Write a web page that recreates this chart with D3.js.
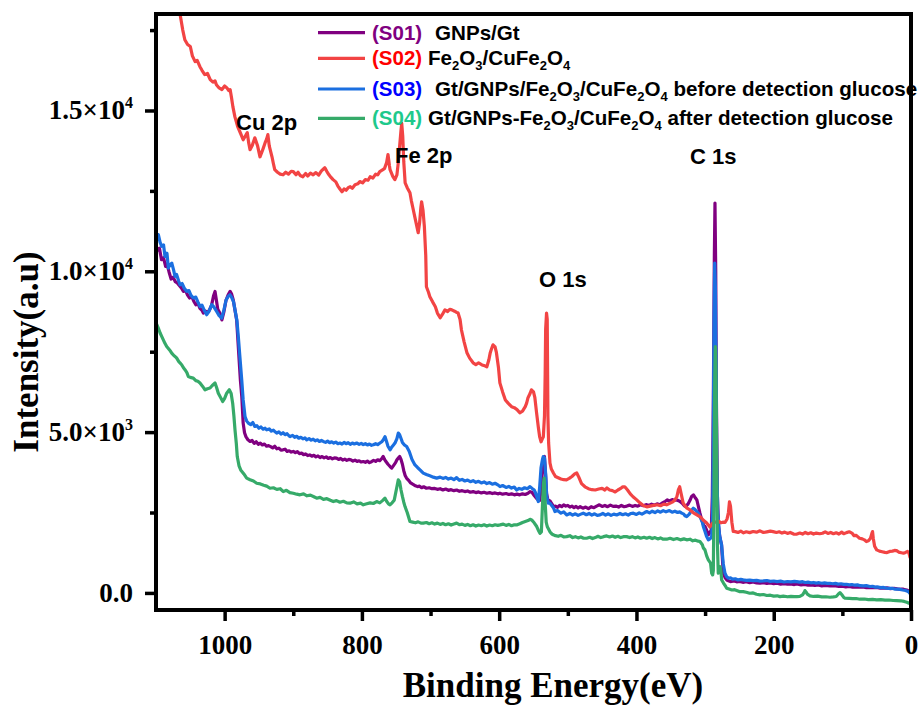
<!DOCTYPE html>
<html>
<head>
<meta charset="utf-8">
<script src="https://cdn.jsdelivr.net/npm/d3@7"></script>
<style>
  body { margin: 0; background: #fff; }
  svg { display: block; }
</style>
</head>
<body>
<svg id="chart" width="919" height="705"></svg>
<script>
/* ===============================
   Data
================================ */

const xMajorTicks = [1000, 800, 600, 400, 200, 0];
const xMinorTicks = [900, 700, 500, 300, 100];
const yMajorTicks = [0, 5000, 10000, 15000];
const yMinorTicks = [2500, 7500, 12500, 17500];
const yTickMantissa = ["0.0", "5.0", "1.0", "1.5"];
const yTickExponent = ["", "3", "4", "4"];

const seriesCodes = ["(S01)", "(S02)", "(S03)", "(S04)"];
const seriesNames = [
  "GNPs/Gt",
  "Fe_2O_3/CuFe_2O_4",
  "Gt/GNPs/Fe_2O_3/CuFe_2O_4 before detection glucose",
  "Gt/GNPs-Fe_2O_3/CuFe_2O_4 after detection glucose"
];
const peakLabels = ["Cu 2p", "Fe 2p", "O 1s", "C 1s"];

// [binding energy (eV), intensity (a.u)]
const s01 = [
  [1100,10800],[1098,10650],[1095,10720],[1092,10360],[1089,10420],[1086,10150],[1084,10230],[1081,9980],
  [1078,9760],[1075,9820],[1072,9680],[1069,9640],[1066,9560],[1063,9480],[1060,9375],[1057,9410],
  [1054,9260],[1051,9170],[1048,9220],[1045,9070],[1042,8960],[1039,9010],[1036,8850],[1033,8790],
  [1031,8700],[1028,8760],[1025,8720],[1022,8800],[1019,8950],[1016,9250],[1014,9375],[1012,9100],
  [1010,8820],[1007,8700],[1004,8490],[1001,8750],[998,9100],[995,9260],[992,9375],[990,9300],
  [987.5,9115],[985,8800],[982.5,8490],[980.5,7800],[978.6,7145],[977,6600],[975,6105],[973,5280],
  [971,4980],[969,4860],[966,4760],[963,4710],[960,4740],[957,4650],[954,4700],[951,4620],
  [948,4660],[945,4600],[942,4630],[939,4560],[936,4580],[933,4550],[930,4510],[927,4560],
  [924,4480],[921,4500],[918,4440],[915,4450],[912,4470],[909,4400],[906,4420],[903,4380],
  [900,4400],[897,4360],[894,4395],[891,4330],[888,4350],[885,4300],[882,4320],[879,4270],
  [876,4290],[873,4250],[870,4280],[867,4230],[864,4260],[861,4210],[858,4240],[855,4200],
  [852,4230],[849,4180],[846,4210],[843,4170],[840,4200],[837,4190],[834,4150],[831,4180],
  [828,4130],[825,4160],[822,4120],[819,4150],[816,4140],[813,4100],[810,4130],[807,4090],
  [804,4110],[801,4070],[798,4085],[795,4060],[792,4100],[789,4050],[786,4080],[783,4120],
  [780,4090],[777,4140],[774,4110],[771,4180],[769,4240],[767,4150],[765,4085],[762,4000],
  [759,3930],[756.6,3880],[754,3960],[751,4050],[749,4140],[747,4190],[745,4240],[743,4150],
  [741,4000],[739,3800],[737,3650],[735,3570],[732,3500],[729,3420],[726,3380],[722,3330],
  [719,3305],[716,3320],[713,3270],[710,3300],[706,3255],[702,3270],[698,3240],[694,3250],
  [690,3220],[686,3240],[682,3200],[678,3230],[674,3190],[670,3210],[666,3180],[662,3200],
  [658,3160],[654,3180],[650,3150],[646,3170],[642,3130],[638,3150],[634,3120],[630,3140],
  [626,3110],[622,3130],[618,3100],[614,3120],[610,3090],[606,3110],[602,3080],[599,3100],
  [595,3070],[590,3090],[586,3060],[582,3080],[578,3050],[574,3070],[570,3050],[566,3080],
  [562,3060],[558,3100],[555,3150],[552,3120],[549,3030],[546,2950],[543,2890],[541,2880],
  [539,3200],[537,3800],[535.5,4200],[534,4240],[532.5,3700],[531,3100],[529,2890],[526,2860],
  [523,2760],[521,2685],[518,2700],[515,2660],[512,2720],[509,2680],[506,2740],[503,2700],
  [500,2720],[497,2670],[494,2700],[491,2650],[488,2690],[485,2640],[482,2680],[478,2635],
  [474,2670],[470,2620],[466,2680],[462,2650],[458,2700],[454,2740],[450,2690],[446,2720],
  [442,2680],[438,2730],[434,2690],[430,2700],[426,2670],[422,2720],[418,2680],[414,2700],
  [410,2730],[406,2690],[402,2720],[398,2700],[394,2740],[390,2710],[386,2745],[382,2720],
  [378,2760],[374,2730],[370,2770],[366,2740],[362,2800],[358,2850],[355,2890],[352,2860],
  [348,2900],[345,2880],[341,2890],[337,2850],[333,2780],[330,2700],[328,2690],[325,2760],
  [322,2880],[319.6,3000],[317,3050],[314,2950],[312,2890],[309.9,2700],[307.5,2480],[305,2280],
  [302,2100],[300,2065],[297.7,1950],[295.3,1805],[293,1880],[291,1960],[289.5,3000],[288,6000],
  [286.5,10500],[285.6,12120],[284.5,10000],[283.5,6000],[282,3000],[280.5,2100],[278.3,1700],[276,1493],
  [273.5,613],[271,480],[268.5,404],[266,380],[263,352],[258,370],[254,345],[250,360],
  [245,330],[240,350],[235,320],[230,340],[225,310],[220,300],[215,320],[210,295],
  [205,310],[200,290],[195,300],[190,275],[185,285],[180,270],[175,280],[170,260],
  [166,280],[160,250],[155,265],[150,240],[145,250],[140,230],[135,245],[130,220],
  [125,235],[118,218],[112,225],[105,200],[100,210],[95,190],[90,200],[85,180],
  [80,190],[74,177],[70,185],[65,165],[60,175],[55,160],[50,170],[45,150],
  [40,146],[35,155],[30,135],[25,145],[20,125],[15,115],[11,115],[8,100],
  [5,80],[3,60],[1.5,40],[0,20]
];

const s02 = [
  [1100,20200],[1090,19500],[1080,18900],[1072,18500],[1065,18000],[1061,17500],[1058,17200],[1054,17050],
  [1050,16990],[1047,16700],[1043,16520],[1040,16560],[1036,16360],[1033,16250],[1029,16115],[1025,16150],
  [1021,15960],[1017,15880],[1014,15920],[1012,15800],[1008,15700],[1004,15650],[1000,15760],[997,15710],
  [994,15620],[992,15650],[990,15400],[988,15120],[985,14800],[981,14500],[977,14300],[973,14090],
  [970,14200],[967,14310],[965,14000],[963,13780],[960,13900],[956,14150],[952,13900],[948.5,13560],
  [945,13750],[941,14000],[939,14100],[937,14250],[935,13900],[931,13560],[929,13350],[927,13160],
  [923,13080],[919,13020],[915,13000],[911,13080],[907,13020],[903,13110],[900,13100],[896,13000],
  [893,13080],[890,12980],[886,12940],[882,13040],[879,12960],[875,13050],[871,13000],[867,13070],
  [863,12990],[859,13120],[856,13180],[854,13220],[851,13100],[848,13000],[845,12920],[842,12850],
  [838,12780],[835,12650],[832,12560],[829,12475],[826,12560],[823,12520],[820,12600],[817,12630],
  [814,12580],[810,12690],[806,12720],[803,12790],[799,12750],[795,12850],[791,12830],[788,12940],
  [784,12900],[780,13020],[777,13000],[774,13100],[770,13150],[767,13200],[764,13380],[762,13630],
  [760,13300],[759,13160],[755,12950],[752,12850],[749,13000],[747,13380],[745,13900],[743,14400],
  [742,14600],[740.5,14200],[739,13400],[737,12750],[734,12600],[730,12440],[728,12200],[726,12000],
  [722,11600],[718,11200],[716,11500],[714,12000],[713,12160],[711,11900],[709,11390],[707,10500],
  [706,9520],[703,9350],[701,9210],[697,9050],[693,8900],[690,8700],[686,8555],[683,8650],
  [679,8800],[675,8750],[672,8820],[669,8800],[665,8760],[662,8720],[660,8710],[657,8500],
  [655,8180],[651,7800],[647,7470],[643,7300],[638,7155],[634,7100],[630,7150],[625,7090],
  [621,7060],[618,7030],[615,7250],[613,7470],[611,7600],[609,7715],[606,7650],[604,7470],
  [601,7000],[599,6530],[595,6250],[591,6000],[587,5900],[582,5790],[578,5760],[574,5700],
  [570,5600],[566,5650],[562,5790],[560,5900],[558,6070],[555,6200],[553,6315],[550,6250],
  [548,6070],[545.5,5600],[543,5160],[541,4850],[539,4700],[537,4800],[535.7,4850],[534,5500],
  [533,6800],[532.3,8200],[531,8700],[530,8500],[529.5,7000],[529,5500],[528,4670],[526,4040],
  [524,3850],[521,3730],[518,3620],[514,3580],[510,3540],[506,3520],[502,3515],[498,3560],
  [494,3620],[490,3700],[487,3730],[484,3600],[480,3400],[475,3300],[470,3240],[465,3210],
  [460,3200],[455,3230],[450,3250],[446,3200],[443,3265],[439,3200],[435,3180],[431,3140],
  [427,3200],[423,3250],[420,3300],[417,3300],[413,3200],[409,3080],[405,2990],[400,2900],
  [395,2800],[390,2720],[385,2675],[380,2700],[375,2720],[370,2740],[365,2710],[360,2760],
  [356,2740],[350,2800],[347,2830],[344,2890],[341,3000],[339,3200],[337,3300],[335,3100],
  [332,2800],[329,2700],[327,2645],[322,2580],[317,2490],[312,2430],[307,2365],[302,2250],
  [298,2180],[293,2050],[290,2150],[287,2200],[284,2200],[280,2230],[277,2180],[274,2200],
  [271,2190],[268,2300],[266,2500],[264.5,2830],[263,2700],[261,2200],[259,1910],[256,1905],
  [252,1880],[248,1920],[244,1870],[240,1900],[235,1875],[230,1910],[225,1890],[220,1930],
  [215,1880],[210,1900],[205,1920],[201,1907],[196,1880],[192,1900],[188,1860],[184,1890],
  [180,1850],[176,1880],[171,1830],[167,1825],[162,1860],[158,1830],[154,1880],[150,1840],
  [146,1870],[142,1830],[138,1860],[133,1840],[129,1855],[125,1900],[121,1850],[117,1880],
  [113,1840],[109,1870],[105,1830],[101,1890],[98,1840],[94,1875],[90,1900],[86,1860],
  [83,1780],[80,1790],[79,1773],[75,1700],[71,1680],[68,1650],[65,1597],[62,1620],
  [59,1700],[57,1850],[56,1907],[55,1700],[53,1450],[50,1338],[46,1300],[42,1280],
  [38,1260],[35,1254],[31,1290],[27,1300],[24,1320],[21,1316],[18,1270],[14,1250],
  [11,1235],[8,1260],[5,1290],[3,1240],[1.5,1110],[0,1080]
];

const s03 = [
  [1100,11150],[1098,11000],[1096.6,11140],[1094,10900],[1091.7,10775],[1089,10820],[1086.9,10460],[1084,10560],
  [1082,10100],[1080,10200],[1077,10255],[1074.5,10050],[1072.3,9840],[1070,9900],[1067,9700],[1065,9580],
  [1062,9620],[1059,9480],[1055.3,9375],[1052,9400],[1049,9250],[1045.7,9170],[1042,9200],[1039,9050],
  [1035.9,8905],[1033,8950],[1030,8800],[1026.1,8650],[1023,8750],[1021,8850],[1018.8,8960],[1016,8900],
  [1013,8800],[1011.6,8750],[1008,8620],[1004.3,8545],[1001,8800],[998,9100],[995,9220],[992.2,9270],
  [990,9200],[987,9050],[984.9,8800],[982,8450],[980.1,7975],[978,7400],[975.1,6625],[973,6000],
  [970.3,5485],[968,5350],[965.5,5280],[962,5230],[959,5300],[956,5175],[953,5200],[950,5120],
  [947,5160],[944,5090],[941,5120],[938.7,5070],[935,5100],[932,5030],[929,5060],[926,5000],
  [924.2,4970],[921,5010],[918,4940],[915,4980],[912,4920],[909,4950],[906,4880],[904.8,4860],
  [901,4900],[898,4840],[895,4870],[892,4810],[889,4840],[886,4790],[883,4820],[880.4,4760],
  [877,4800],[874,4750],[871,4780],[868,4730],[865,4760],[862,4710],[859,4740],[856.3,4710],
  [853,4680],[850,4720],[847,4670],[844,4700],[841,4660],[838,4690],[835,4640],[832,4660],
  [829,4630],[826,4680],[823,4640],[820,4670],[817,4620],[814,4660],[811,4630],[807.6,4660],
  [804,4620],[801,4650],[798,4610],[795,4640],[792,4600],[789,4630],[786,4590],[783.4,4605],
  [780,4640],[777,4610],[773.7,4660],[771,4700],[768.8,4760],[766.4,4860],[764,4700],[762,4560],
  [759,4450],[757,4520],[754,4600],[751.8,4660],[749,4800],[747,4970],[745,4915],[743,4800],
  [741,4680],[738,4600],[734.8,4550],[731,4400],[727,4150],[722.7,3980],[719,3900],[715,3820],
  [710.6,3725],[706,3680],[701,3640],[696,3600],[691.1,3570],[686,3600],[682,3560],[678,3590],
  [674,3540],[670,3570],[666,3520],[662,3585],[658,3500],[654,3530],[650,3480],[646,3510],
  [642,3460],[638,3490],[634,3440],[630,3470],[626,3420],[622,3450],[618,3400],[614,3430],
  [610,3380],[606,3410],[602,3360],[598.8,3305],[595,3340],[590,3280],[586,3310],[582,3260],
  [578,3290],[574.5,3200],[571,3250],[567,3220],[563,3270],[559,3240],[555.1,3305],[552,3250],
  [549,3200],[547.8,3150],[545.3,3000],[543,2840],[541,3300],[539,3900],[537,4140],[535.7,4240],
  [534,4200],[532,3600],[530.8,3000],[528.5,2790],[526,2790],[521,2650],[518.7,2530],[515,2560],
  [510,2480],[506,2520],[501.7,2425],[497,2470],[493,2420],[489,2460],[485,2410],[481,2450],
  [477.5,2480],[473,2430],[469,2470],[465,2420],[461,2460],[457,2410],[453.1,2425],[449,2470],
  [445,2420],[441,2460],[437,2410],[433,2450],[428.8,2425],[424,2470],[420,2430],[416,2460],
  [412,2420],[408,2470],[404.6,2480],[400,2440],[396,2490],[392,2450],[388,2500],[385,2530],
  [381,2490],[377,2540],[373,2500],[369,2550],[365,2510],[361,2560],[357,2520],[355.9,2530],
  [352,2560],[348,2510],[344,2540],[340,2500],[337,2520],[334.1,2480],[331,2450],[329.3,2400],
  [326.8,2375],[323,2450],[320,2560],[317.2,2635],[315,2600],[312,2530],[309.9,2480],[307,2350],
  [304,2200],[302.6,2065],[300,1900],[297.7,1750],[295.3,1650],[293,1680],[290.4,1750],[289,2500],
  [288,5000],[287,8500],[286,10255],[285,9500],[284,7000],[283,4000],[281.5,2500],[279,1800],
  [276,1493],[273.5,900],[271,613],[268.5,500],[266,457],[263,470],[260,430],[256,440],
  [252,404],[248,420],[244.4,404],[240,390],[235,400],[230,380],[225,390],[220,365],
  [215.2,373],[210,385],[205,360],[200,370],[195,350],[190,365],[185,340],[180,355],
  [175,345],[170,360],[166.6,352],[162,335],[158,350],[154,325],[150,335],[146,315],
  [142,325],[138,305],[134,318],[130,300],[126,310],[122,295],[118.1,300],[114,285],
  [110,295],[106,275],[102,285],[98,265],[94,270],[90,250],[86,260],[82,240],
  [78,250],[74,225],[69.5,218],[65,225],[60,200],[56,205],[52,180],[48,185],
  [44,165],[40,170],[36,150],[32,140],[28,145],[24,120],[20,115],[16,110],
  [12,90],[8,75],[5,50],[3,20],[1.5,-20],[0,-30]
];

const s04 = [
  [1100,8400],[1098,8300],[1096,8200],[1094,8080],[1091.7,7975],[1089,7850],[1087,7760],[1084.4,7660],
  [1082,7600],[1079,7520],[1077.1,7455],[1074,7380],[1071,7330],[1069.8,7300],[1067,7200],[1065,7150],
  [1062.6,7095],[1060,7000],[1057.8,6940],[1055,6850],[1052.9,6730],[1050,6700],[1045.7,6680],[1042,6600],
  [1039,6580],[1035.9,6525],[1032,6420],[1028.6,6315],[1025,6350],[1021.3,6370],[1018,6450],[1014,6525],
  [1011.6,6380],[1009.2,6210],[1006,6080],[1002.8,5950],[1000,6050],[997,6210],[993.2,6315],[990.5,6200],
  [988.3,5900],[986.5,5500],[984.9,5070],[983,4650],[981.6,4240],[979,3950],[976.6,3825],[972,3700],
  [967.9,3570],[963,3520],[958,3480],[953.3,3410],[948,3390],[943,3350],[938.7,3320],[933.9,3255],
  [929,3270],[924,3220],[919,3240],[914.5,3150],[910,3190],[905,3120],[900,3100],[895,3070],
  [890.2,3050],[885,3080],[880,3020],[875,3040],[870,2990],[865.9,2945],[861,2970],[856,2910],
  [851,2930],[846,2880],[841.7,2840],[837,2870],[832,2820],[827,2850],[822,2800],[817.4,2790],
  [812,2830],[807,2770],[802,2790],[798,2740],[793,2770],[788,2800],[783.4,2780],[778.5,2840],
  [774,2800],[770,2870],[766.4,2945],[764,2850],[761,2760],[759.1,2740],[756,2800],[753,2880],
  [751.8,3000],[749,3300],[747,3515],[745,3450],[743,3200],[741,3000],[739,2820],[737.2,2685],
  [734,2500],[730,2220],[726,2200],[722,2180],[718,2210],[714,2170],[710.6,2170],[706,2190],
  [702,2150],[698,2180],[694,2140],[690,2170],[686,2130],[682,2160],[678,2120],[674,2150],
  [670,2110],[666,2140],[662,2170],[658,2120],[654,2140],[650,2100],[646,2130],[642,2090],
  [638,2120],[634,2080],[630,2110],[626,2090],[622,2120],[618,2080],[614,2110],[610,2090],
  [606,2120],[602,2100],[598.8,2115],[594,2140],[590,2100],[586,2130],[582,2090],[578,2120],
  [574.5,2115],[570,2150],[566,2190],[562,2220],[558,2250],[555,2290],[552.7,2270],[549,2180],
  [545.3,2065],[543,1950],[540.6,1855],[538.5,1900],[537,2700],[535.5,3400],[534.5,3570],[533,2800],
  [531.5,2200],[530,2065],[528.5,2000],[526,1900],[523,1830],[521.2,1805],[518,1780],[514,1760],
  [510,1790],[506,1740],[501.7,1750],[497,1780],[493,1720],[489,1750],[485,1710],[481,1740],
  [477,1700],[472.6,1700],[468,1730],[464,1690],[460,1720],[456,1760],[452,1720],[448,1750],
  [443.4,1773],[439,1740],[435,1770],[431,1730],[427,1760],[423,1720],[419,1750],[414.3,1750],
  [410,1720],[406,1750],[402,1710],[398,1740],[394,1700],[389,1730],[385.1,1700],[381,1730],
  [377,1690],[373,1720],[369,1680],[365,1710],[361,1670],[355.9,1670],[351,1700],[346,1660],
  [341,1690],[336,1650],[331,1680],[326.8,1650],[322,1670],[318,1620],[314,1640],[310,1610],
  [307.5,1597],[304,1500],[302.6,1400],[300.2,1338],[297.7,1150],[295.3,1027],[292,924],[290.4,613],
  [289,560],[288,700],[287,3000],[286,6500],[285,7660],[284.2,7000],[283,4000],[282,1500],
  [280.8,613],[279,700],[278.3,820],[277,700],[275.9,404],[273,300],[270,200],[268.5,146],
  [265,120],[261,90],[257,100],[253,70],[249.2,40],[244.4,40],[240,20],[235,-10],
  [230,0],[225,-40],[220,-62],[215,-50],[210,-80],[205,-70],[200,-100],[195,-90],
  [190.9,-115],[186,-100],[180,-120],[175,-105],[170,-115],[166.6,-115],[162,-105],[158,-60],
  [155,40],[154.5,72],[153,30],[151,-40],[147.2,-93],[142,-110],[136,-100],[130,-125],
  [124,-120],[118.1,-134],[113,-125],[109,-110],[106,-40],[103.5,10],[101,-50],[98,-140],
  [96.2,-165],[90,-170],[85,-180],[80,-175],[74.4,-196],[68,-190],[62,-210],[56,-200],
  [50,-218],[44,-210],[38,-225],[32,-220],[26,-235],[20.9,-240],[15,-245],[10,-265],
  [6,-290],[3,-320],[1.5,-321],[0,-373]
];

/* ===============================
   Styles / layout
================================ */

const lineColors = ["#800080", "#f24444", "#1b6fe0", "#36aa69"];
const codeColors = ["#800080", "#ff0000", "#0000ff", "#1ec98c"];
const drawOrder = [0, 2, 1, 3];

const plot = { left: 156, right: 911, top: 14, bottom: 610 };
const SERIF = "'Liberation Serif', 'Times New Roman', serif";
const SANS = "'Liberation Sans', Arial, sans-serif";

const svg = d3.select("#chart");

const x = d3.scaleLinear().domain([1100, 0]).range([plot.left, plot.right]);
const y = d3.scaleLinear().domain([-500, 18000]).range([609, 14]);

/* ===============================
   Series
================================ */

svg.append("clipPath").attr("id", "plotClip")
  .append("rect")
  .attr("x", plot.left).attr("y", plot.top)
  .attr("width", plot.right - plot.left)
  .attr("height", plot.bottom - plot.top);

const line = d3.line()
  .x(d => x(d[0]))
  .y(d => y(d[1]));

const allSeries = [s01, s02, s03, s04];

const gLines = svg.append("g").attr("clip-path", "url(#plotClip)");
drawOrder.forEach(i => {
  gLines.append("path")
    .datum(allSeries[i])
    .attr("fill", "none")
    .attr("stroke", lineColors[i])
    .attr("stroke-width", 3.2)
    .attr("stroke-linejoin", "round")
    .attr("d", line);
});

/* ===============================
   Axes
================================ */

const xAxis = svg.append("g")
  .attr("transform", `translate(0,${plot.bottom})`)
  .call(d3.axisBottom(x).tickValues(xMajorTicks).tickSize(11).tickSizeOuter(0).tickFormat(d => d));

xAxis.select(".domain").remove();
xAxis.selectAll(".tick line").attr("stroke", "#000").attr("stroke-width", 3.5);
xAxis.selectAll(".tick text")
  .attr("y", 44).attr("dy", 0)
  .attr("fill", "#000")
  .style("font-family", SERIF)
  .style("font-weight", "bold")
  .style("font-size", "27px");

svg.append("g")
  .attr("transform", `translate(0,${plot.bottom})`)
  .call(d3.axisBottom(x).tickValues(xMinorTicks).tickSize(6).tickSizeOuter(0).tickFormat(""))
  .call(g => g.select(".domain").remove())
  .selectAll(".tick line").attr("stroke", "#000").attr("stroke-width", 3.5);

const yAxis = svg.append("g")
  .attr("transform", `translate(${plot.left},0)`)
  .call(d3.axisLeft(y).tickValues(yMajorTicks).tickSize(11).tickSizeOuter(0).tickFormat(""));

yAxis.select(".domain").remove();
yAxis.selectAll(".tick line").attr("stroke", "#000").attr("stroke-width", 3.5);

svg.append("g")
  .attr("transform", `translate(${plot.left},0)`)
  .call(d3.axisLeft(y).tickValues(yMinorTicks).tickSize(6).tickSizeOuter(0).tickFormat(""))
  .call(g => g.select(".domain").remove())
  .selectAll(".tick line").attr("stroke", "#000").attr("stroke-width", 3.5);

// y tick labels with superscript exponents
yMajorTicks.forEach((v, i) => {
  const t = svg.append("text")
    .attr("x", 133)
    .attr("y", y(v) + 9)
    .attr("text-anchor", "end")
    .style("font-family", SERIF)
    .style("font-weight", "bold")
    .style("font-size", "27px");
  if (yTickExponent[i]) {
    t.append("tspan").text(yTickMantissa[i] + "\u00d710");
    t.append("tspan").attr("dy", -11).style("font-size", "16px").text(yTickExponent[i]);
  } else {
    t.text(yTickMantissa[i]);
  }
});

// axis titles
svg.append("text")
  .attr("x", 553).attr("y", 697)
  .attr("text-anchor", "middle")
  .style("font-family", SERIF)
  .style("font-weight", "bold")
  .style("font-size", "35px")
  .text("Binding Energy(eV)");

svg.append("text")
  .attr("transform", "translate(38,352) rotate(-90)")
  .attr("text-anchor", "middle")
  .style("font-family", SERIF)
  .style("font-weight", "bold")
  .style("font-size", "35px")
  .text("Intensity(a.u)");

/* ===============================
   Peak labels
================================ */

const peakPos = [[236, 130], [395, 163], [539, 287], [690, 164]];
peakLabels.forEach((lab, i) => {
  svg.append("text")
    .attr("x", peakPos[i][0]).attr("y", peakPos[i][1])
    .style("font-family", SANS)
    .style("font-weight", "bold")
    .style("font-size", "22px")
    .text(lab);
});

/* ===============================
   Legend
================================ */

const legendY = [32.7, 58.3, 89, 118.3];
const legendTextX = [435, 428, 435, 428];

function addRichText(sel, str) {
  // "_d" marks a subscript digit
  const parts = str.split(/(_\d)/).filter(s => s.length);
  let shifted = false;
  parts.forEach(p => {
    if (p[0] === "_") {
      sel.append("tspan").attr("dy", 5).style("font-size", "13px").text(p.slice(1));
      shifted = true;
    } else {
      const ts = sel.append("tspan").text(p);
      if (shifted) { ts.attr("dy", -5); shifted = false; }
    }
  });
}

seriesCodes.forEach((code, i) => {
  svg.append("line")
    .attr("x1", 318).attr("x2", 365)
    .attr("y1", legendY[i]).attr("y2", legendY[i])
    .attr("stroke", lineColors[i])
    .attr("stroke-width", 3.2);

  svg.append("text")
    .attr("x", 372).attr("y", legendY[i] + 7)
    .attr("fill", codeColors[i])
    .style("font-family", SANS)
    .style("font-weight", "bold")
    .style("font-size", "20.5px")
    .text(code);

  const t = svg.append("text")
    .attr("x", legendTextX[i]).attr("y", legendY[i] + 7)
    .attr("fill", "#000")
    .style("font-family", SANS)
    .style("font-weight", "bold")
    .style("font-size", "20.6px");
  addRichText(t, seriesNames[i]);
});

// frame drawn last so it sits over the legend text, as in the original
svg.append("rect")
  .attr("x", plot.left).attr("y", plot.top)
  .attr("width", plot.right - plot.left)
  .attr("height", plot.bottom - plot.top)
  .attr("fill", "none")
  .attr("stroke", "#000")
  .attr("stroke-width", 4);
</script>
</body>
</html>
